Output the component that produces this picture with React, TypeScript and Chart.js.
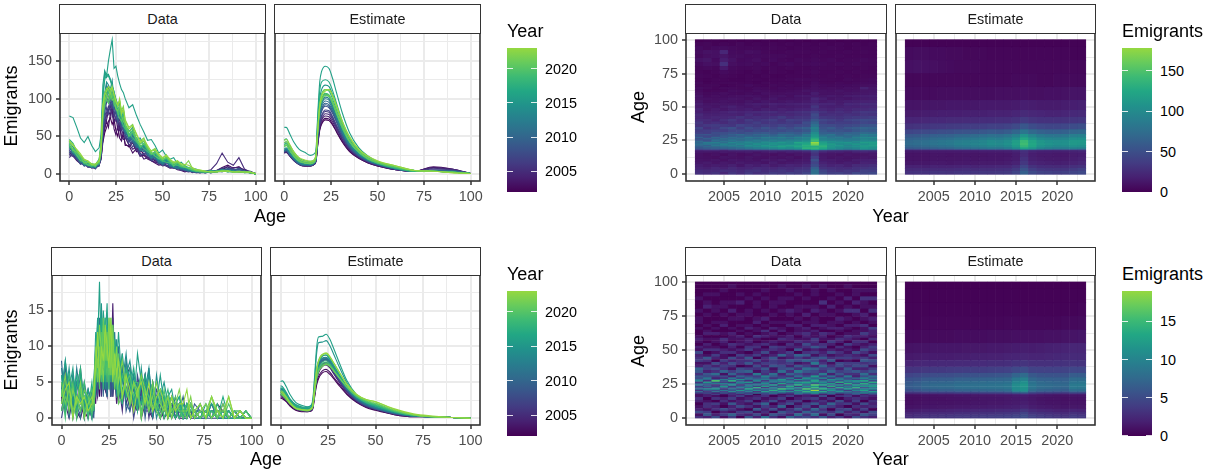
import React, { useEffect, useRef } from "react";
import { Chart, registerables } from "chart.js";
Chart.register(...registerables);

const YEARS = [2002,2003,2004,2005,2006,2007,2008,2009,2010,2011,2012,2013,2014,2015,2016,2017,2018,2019,2020,2021,2022,2023];
const AGES_DATA = [0,2,4,6,8,10,12,14,16,17,18,19,20,21,22,23,24,25,26,27,28,29,30,32,34,36,38,40,42,44,46,48,50,52,54,56,58,60,62,64,66,68,70,73,76,79,82,85,88,91,94,97,100];
const AGES_EST = [0,1,3,5,8,11,14,16,17,18,19,20,22,24,26,28,31,35,40,45,50,60,70,80,90,100];

const TOP_DATA = [
[28,26,20,17,13,11,10,10,13,20,42,55,62,70,75,66,72,58,50,64,48,52,40,36,42,30,33,26,22,24,17,19,14,16,12,10,11,8,6,7,4,5,3,4,3,4,6,10,5,7,6,3,0],
[26,24,18,14,15,10,9,8,12,22,46,60,70,62,80,85,60,52,64,48,44,56,38,38,28,34,24,25,20,18,15,12,13,11,8,9,6,5,3,5,4,2,2,3,2,5,9,12,8,10,4,4,1],
[30,25,22,16,11,12,8,10,11,23,48,62,72,84,78,90,70,75,60,68,50,46,48,40,33,36,28,20,22,18,16,15,11,12,9,8,8,6,4,3,4,3,3,2,3,4,8,6,9,9,6,2,1],
[22,28,19,15,14,9,11,7,14,19,46,66,78,85,92,76,80,70,72,58,60,52,50,38,44,34,24,28,22,20,19,13,15,12,11,9,7,8,4,5,2,4,3,4,6,14,28,16,12,22,7,3,0],
[32,27,24,18,12,13,10,11,12,24,52,70,82,90,84,95,78,82,68,74,58,62,52,44,50,32,30,34,24,19,22,16,18,12,10,11,8,6,7,5,3,4,2,3,4,5,8,10,7,6,5,2,1],
[26,24,20,13,15,11,9,8,13,26,56,74,88,80,96,88,85,72,74,66,62,70,48,46,36,42,27,26,30,18,20,15,14,11,9,10,9,5,6,4,4,3,2,2,3,4,6,5,7,5,4,4,0],
[34,30,21,19,13,12,12,9,15,25,60,82,95,102,92,98,90,80,76,84,66,58,54,42,48,38,32,36,24,26,22,17,13,15,12,8,10,7,5,4,6,3,3,3,2,4,7,6,5,8,4,2,1],
[28,31,25,16,14,10,10,12,11,28,64,88,100,94,106,92,86,88,70,78,64,68,56,48,42,35,38,30,28,20,24,14,15,17,10,12,9,6,8,6,4,2,3,2,4,5,5,8,6,7,4,3,0],
[30,26,23,20,11,14,9,10,14,27,68,92,105,110,98,102,94,84,80,88,68,72,58,46,52,40,31,34,26,23,25,18,12,16,13,9,7,9,7,5,3,4,2,3,2,3,6,4,5,4,3,2,1],
[36,29,22,15,16,12,11,8,16,30,72,96,112,100,108,104,88,90,78,84,70,62,54,50,44,37,34,38,29,21,26,16,16,19,11,13,10,8,6,4,5,3,3,2,4,4,3,6,5,3,4,3,0],
[33,32,26,18,12,15,10,11,13,31,78,104,118,112,102,110,96,86,82,90,72,78,60,48,54,42,32,30,35,24,21,19,14,17,12,9,11,8,6,6,4,4,3,2,3,3,5,4,5,3,3,2,1],
[38,28,24,21,14,11,12,9,17,29,76,100,110,116,104,100,98,92,76,84,68,74,62,52,46,40,36,39,27,22,25,17,15,18,14,10,8,9,7,5,5,3,4,3,2,4,6,3,4,4,2,3,0],
[35,34,27,19,15,13,9,12,15,33,84,108,122,118,112,124,100,94,84,92,74,66,58,50,56,44,33,37,31,25,27,20,16,19,13,11,13,9,8,6,4,4,5,3,3,3,4,5,3,4,3,2,1],
[42,36,30,23,17,14,13,12,18,38,100,135,128,132,126,118,108,100,92,96,80,86,66,56,62,46,48,38,32,27,30,21,17,20,15,12,14,9,11,7,5,4,5,3,4,3,5,4,3,4,3,3,0],
[77,75,62,48,42,50,38,30,35,52,118,137,130,150,165,178,140,143,130,120,112,108,100,88,92,78,66,56,45,46,38,28,32,24,20,22,14,16,11,9,8,7,5,4,5,4,6,5,4,3,3,2,1],
[46,41,30,24,19,15,14,13,20,40,104,125,133,130,124,116,110,96,90,94,82,72,64,58,52,48,40,44,33,26,29,22,18,21,14,16,12,10,10,7,6,4,4,3,3,4,5,4,3,4,3,3,0],
[38,33,28,20,16,15,11,12,16,34,88,106,112,108,114,102,104,92,86,80,76,82,62,52,58,46,36,40,32,28,24,20,17,21,16,11,14,10,9,8,5,4,4,4,3,4,4,5,3,3,4,2,1],
[40,30,26,22,14,13,13,10,17,32,82,98,104,110,100,106,98,90,80,86,72,64,60,54,48,43,38,34,30,26,28,23,18,16,15,13,12,10,11,7,6,5,3,3,4,3,5,3,4,3,3,3,0],
[36,34,25,18,17,12,11,13,14,30,74,92,100,94,102,108,92,88,82,74,70,76,64,50,56,45,37,41,33,29,24,21,20,23,17,11,15,11,9,9,6,4,5,4,3,4,4,4,3,4,2,2,1],
[44,32,29,24,15,16,12,11,18,33,80,96,106,100,110,98,100,86,84,90,78,70,66,56,60,47,40,44,35,27,30,24,19,22,18,14,16,12,10,8,7,5,4,3,4,3,5,4,3,3,3,3,0],
[42,40,31,25,20,17,14,12,19,36,92,108,114,112,106,116,104,98,92,98,84,90,72,62,66,52,44,48,36,31,34,25,21,26,19,15,17,13,12,18,8,6,5,4,3,4,4,5,3,4,3,2,1],
[45,38,33,27,19,18,13,14,17,35,90,104,110,116,112,115,106,96,90,100,80,86,70,60,64,54,42,46,38,30,33,27,22,25,20,16,18,14,13,12,9,6,6,4,3,3,4,4,3,3,3,3,1],
];

const TOP_EST = [
[28,29,24,19,13,11,11,13,17,40,58,66,72,71,65,56,43,30,21,15,11,6,4,9,6,1],
[29,30,25,19,13,11,11,13,18,41,60,68,74,73,66,57,44,31,21,15,11,6,4,10,7,1],
[28,30,24,18,13,11,11,13,18,43,62,71,77,76,69,60,46,32,22,16,12,6,4,9,7,1],
[30,31,25,20,14,12,12,14,19,44,65,73,80,79,72,62,47,33,23,16,12,6,4,8,6,1],
[29,31,25,19,14,12,12,14,19,46,67,76,83,82,74,64,49,34,23,17,12,7,4,7,6,1],
[29,30,25,19,13,12,11,14,19,47,69,78,85,84,76,65,50,35,24,17,13,7,4,6,5,1],
[31,32,26,20,14,12,12,14,20,50,73,83,90,88,80,69,52,36,24,17,13,7,4,5,5,1],
[31,32,27,21,14,13,12,15,20,51,75,85,92,90,82,70,53,37,25,18,13,7,4,5,4,1],
[30,32,26,20,14,12,12,14,20,52,77,87,94,92,84,72,54,37,25,18,13,7,4,5,4,1],
[32,33,27,21,15,13,12,15,21,54,80,90,97,95,86,74,56,38,26,18,14,7,4,4,4,1],
[31,33,27,21,15,13,13,15,21,57,84,94,102,100,90,77,58,40,26,19,14,7,4,4,3,1],
[33,34,28,22,15,13,13,15,22,56,82,93,100,98,88,76,57,39,27,19,14,8,4,4,3,1],
[34,35,29,22,16,14,13,16,22,60,88,99,106,103,93,80,60,41,27,19,14,8,4,4,3,1],
[41,43,35,28,19,16,16,18,26,68,100,112,118,116,105,90,68,46,30,21,15,8,5,4,3,1],
[62,62,53,43,33,29,25,27,33,82,122,136,143,140,126,108,82,55,35,24,17,9,5,4,3,1],
[45,47,38,30,21,18,17,19,27,76,110,122,125,122,110,94,71,48,31,22,16,8,5,4,3,1],
[39,41,33,26,19,16,15,17,24,64,95,106,112,110,99,85,65,44,29,21,15,8,4,4,3,1],
[38,39,32,25,18,15,15,17,23,61,90,100,107,105,95,81,62,43,29,20,15,9,4,4,3,1],
[36,38,31,24,17,15,14,16,23,59,87,97,104,103,93,80,62,43,29,20,15,9,5,4,3,1],
[37,39,32,25,18,15,14,16,24,60,88,98,105,104,95,82,64,44,30,21,16,10,5,4,3,1],
[42,43,36,28,20,17,16,18,25,62,92,105,112,112,103,89,69,48,32,23,17,11,5,4,2,1],
[45,46,39,30,22,19,17,19,27,60,90,103,110,112,104,91,71,50,33,24,18,11,5,4,2,1],
];

const BOTTOM_DATA = [
[3,1,5,2,1,0,2,3,1,1,4,7,3,8,5,4,9,6,3,10,8,5,6,3,6,7,2,1,4,3,2,5,1,2,0,1,2,1,0,0,1,0,1,1,0,1,0,0,1,0,0,0,0],
[2,6,4,1,3,3,1,0,2,2,5,3,6,10,4,8,5,7,12,3,7,9,5,6,2,4,4,1,3,6,1,0,3,1,2,0,1,0,2,1,0,1,0,0,1,0,2,1,0,1,0,0,0],
[5,2,0,3,2,4,0,3,1,4,2,8,5,11,7,4,3,9,5,16,6,2,4,8,3,5,2,5,0,2,4,1,3,1,0,1,1,0,2,0,1,0,1,0,0,1,1,0,0,1,0,0,0],
[1,4,2,5,0,1,3,2,0,1,6,4,9,3,7,12,5,10,4,6,9,3,5,1,7,3,4,2,4,1,1,3,2,0,1,2,3,0,1,0,0,2,1,0,1,0,1,1,0,0,1,0,0],
[4,7,1,3,2,6,1,4,2,3,3,10,6,8,5,4,11,8,3,14,6,9,2,7,4,1,3,5,2,5,0,3,1,2,3,0,1,1,2,0,1,0,0,1,0,2,0,1,0,0,0,1,0],
[0,3,4,1,5,2,2,1,4,2,7,5,12,4,9,7,3,8,10,6,11,4,7,3,6,5,0,3,3,2,4,1,2,0,2,1,1,2,0,1,0,1,0,1,1,0,0,2,0,1,0,0,0],
[6,2,5,0,3,1,4,2,1,5,4,9,7,13,6,10,8,5,12,3,7,8,5,2,7,4,1,6,3,6,2,0,4,3,1,2,2,0,1,0,2,1,0,0,1,1,0,0,1,0,0,0,0],
[2,5,1,6,1,4,0,3,2,0,8,3,11,5,14,4,9,7,3,10,8,6,4,9,1,3,5,2,5,0,4,2,1,3,2,0,1,3,0,1,1,0,2,1,0,0,1,1,0,1,0,0,0],
[8,1,3,2,4,7,2,1,3,4,5,12,6,9,3,13,6,11,8,4,9,7,10,3,4,6,2,4,2,3,1,5,2,0,3,1,0,2,1,3,0,1,0,2,0,1,0,0,1,0,1,0,0],
[3,6,0,5,2,0,5,2,0,3,9,6,14,7,10,5,12,4,8,9,7,3,6,8,2,1,6,4,4,6,2,1,3,4,1,2,0,1,2,0,2,0,1,0,1,0,1,1,0,0,0,0,0],
[1,4,6,1,7,3,1,4,2,1,6,11,8,15,5,9,3,13,6,10,12,5,4,2,8,5,5,3,3,1,7,2,2,3,0,1,3,1,0,2,1,0,1,0,0,1,0,1,1,0,0,1,0],
[7,2,4,3,0,5,3,0,4,2,4,10,5,12,8,14,7,6,10,8,5,9,3,7,3,6,2,4,6,2,3,4,0,2,3,1,2,2,1,0,0,2,1,0,1,2,0,0,1,0,1,0,0],
[4,8,2,6,3,1,4,2,1,5,10,7,13,6,11,4,14,9,12,5,11,3,8,5,9,3,6,1,5,4,7,0,6,2,1,3,1,0,2,1,1,2,0,1,0,1,1,0,0,1,0,0,0],
[5,3,7,2,5,4,0,3,2,3,8,14,9,16,7,12,6,10,13,6,8,11,5,3,6,8,4,2,7,2,6,3,1,3,5,2,1,2,3,1,2,0,1,0,2,0,1,0,1,0,0,1,0],
[3,8,4,7,1,6,2,4,1,4,12,10,19,8,15,11,16,6,9,13,10,7,12,4,5,7,2,9,5,5,1,4,2,6,2,3,4,1,1,2,0,2,1,1,0,2,1,0,0,1,1,0,0],
[6,1,5,3,6,2,3,1,5,2,7,13,6,14,9,5,13,8,11,7,4,10,4,9,3,4,7,3,2,6,3,2,1,4,3,0,1,2,3,0,1,2,0,0,1,1,0,3,0,0,0,1,0],
[2,5,3,0,4,7,1,3,0,4,9,6,12,10,4,14,7,12,5,9,11,4,8,2,7,5,3,1,6,3,1,5,2,0,2,4,1,0,2,0,2,1,1,0,1,0,2,0,1,0,1,0,0],
[4,0,6,4,2,3,5,0,3,1,5,11,8,5,13,6,10,4,14,6,9,8,3,6,4,2,5,5,0,4,2,3,1,3,0,2,3,1,0,1,2,0,1,2,0,1,0,1,0,1,0,0,0],
[1,3,2,5,0,4,1,2,4,3,6,8,4,12,7,10,5,14,7,10,6,5,9,3,5,6,3,4,1,4,3,1,2,1,4,0,2,3,1,0,1,2,0,1,0,3,1,0,2,0,0,1,0],
[5,2,4,1,3,1,4,3,1,5,8,5,10,6,14,8,12,6,9,11,4,7,2,3,6,2,5,4,0,3,2,5,1,0,2,3,1,2,1,1,0,2,1,0,1,3,0,2,0,1,1,0,0],
[3,6,1,4,2,5,0,2,3,2,10,7,13,9,5,12,8,14,6,13,6,10,5,8,4,2,5,3,6,4,1,3,5,2,1,3,0,2,4,1,1,3,0,1,2,0,1,1,3,0,1,0,0],
[2,4,5,0,3,2,3,1,2,4,7,12,5,10,8,13,10,7,14,5,9,6,8,3,6,4,1,4,5,2,5,1,3,4,2,0,3,1,2,2,4,0,1,2,0,3,1,0,3,0,1,0,0],
];

const BOTTOM_EST = [
[2.8,2.7,2.3,1.7,1.1,.9,.9,1,1.3,3,4.6,5.5,6.3,6.5,6.1,5.5,4.5,3.3,2.2,1.5,1.1,.5,.2,.2,.1,0],
[3,2.9,2.4,1.8,1.2,1,.9,1,1.4,3.2,4.9,5.8,6.6,6.8,6.4,5.7,4.7,3.4,2.3,1.6,1.2,.5,.2,.2,.1,0],
[3.2,3.1,2.6,2,1.3,1.1,1,1.1,1.5,3.5,5.3,6.3,7.2,7.4,7,6.2,5,3.6,2.4,1.7,1.2,.6,.3,.2,.1,0],
[3.3,3.2,2.6,2,1.3,1.1,1,1.1,1.5,3.6,5.5,6.5,7.4,7.6,7.1,6.3,5.1,3.7,2.4,1.7,1.3,.6,.3,.2,.1,0],
[3.3,3.3,2.7,2,1.4,1.1,1,1.2,1.6,3.7,5.6,6.6,7.5,7.7,7.2,6.4,5.2,3.7,2.5,1.7,1.3,.6,.3,.2,.1,0],
[3.4,3.4,2.7,2.1,1.4,1.1,1.1,1.2,1.6,3.7,5.6,6.6,7.5,7.8,7.3,6.4,5.2,3.8,2.5,1.7,1.3,.6,.3,.2,.1,0],
[3.6,3.5,2.9,2.2,1.5,1.2,1.1,1.3,1.7,3.9,5.9,7,7.9,8.1,7.6,6.7,5.4,3.9,2.6,1.8,1.3,.7,.3,.2,.1,0],
[3.6,3.6,2.9,2.2,1.5,1.2,1.2,1.3,1.7,4,6,7.1,8,8.2,7.6,6.8,5.5,4,2.6,1.8,1.4,.7,.3,.2,.1,0],
[3.8,3.7,3,2.3,1.6,1.3,1.2,1.4,1.8,4,6.1,7.2,8.1,8.2,7.7,6.8,5.5,4,2.7,1.9,1.4,.7,.3,.2,.1,0],
[3.9,3.8,3.1,2.4,1.6,1.3,1.3,1.4,1.9,4.1,6.2,7.3,8.2,8.3,7.8,6.9,5.6,4,2.7,1.9,1.4,.7,.3,.2,.1,0],
[4,3.9,3.2,2.4,1.7,1.4,1.3,1.4,1.9,4.2,6.3,7.4,8.3,8.4,7.9,7,5.7,4.1,2.8,2,1.5,.8,.3,.2,.1,0],
[4.1,4,3.3,2.5,1.7,1.4,1.3,1.5,2,4.2,6.4,7.5,8.4,8.5,8,7.1,5.8,4.2,2.8,2,1.5,.8,.3,.2,.1,0],
[4.2,4.1,3.4,2.6,1.8,1.5,1.4,1.5,2.1,4.5,6.8,7.9,8.7,8.8,8.2,7.3,6,4.3,2.9,2.1,1.6,.8,.4,.2,.1,0],
[4.5,4.4,3.6,2.7,1.9,1.6,1.5,1.7,2.3,5.5,9,10.5,10.6,10.8,10.1,8.9,7.1,4.9,3.2,2.2,1.7,.9,.4,.2,.1,0],
[5.1,5.2,4.4,3.3,2.2,1.8,1.6,1.8,2.6,6,9.8,11.3,11.4,11.7,11,9.7,7.7,5.2,3.3,2.3,1.8,.9,.4,.2,.1,0],
[4.2,4.2,3.4,2.6,1.8,1.5,1.4,1.5,2.1,4.3,6.6,7.8,8.6,8.8,8.3,7.4,6.1,4.4,3,2.2,1.7,.9,.4,.2,.1,0],
[3.8,3.8,3.1,2.3,1.6,1.3,1.2,1.4,1.8,3.9,6,7,7.8,8,7.6,6.8,5.7,4.3,3,2.2,1.8,.9,.4,.2,.1,0],
[3.6,3.5,2.9,2.2,1.5,1.2,1.1,1.3,1.7,3.8,5.8,6.8,7.6,7.8,7.4,6.7,5.6,4.3,3,2.3,1.9,1,.4,.2,.1,0],
[3.4,3.3,2.7,2,1.4,1.2,1.1,1.2,1.6,3.7,5.6,6.6,7.4,7.6,7.3,6.6,5.6,4.3,3.1,2.4,2,1,.4,.2,.1,0],
[3.3,3.2,2.6,2,1.3,1.1,1,1.2,1.6,3.6,5.5,6.5,7.2,7.5,7.2,6.6,5.6,4.4,3.2,2.5,2.1,1.1,.5,.2,.1,0],
[3.8,3.7,3,2.2,1.4,1.2,1.1,1.3,1.8,4.4,6.8,8,8.9,9,8.5,7.7,6.4,4.7,3.3,2.6,2.3,1.2,.5,.2,.1,0],
[3.6,3.5,2.9,2.1,1.4,1.2,1.1,1.3,1.8,4.3,6.6,7.9,8.8,9.1,8.6,7.7,6.4,4.7,3.3,2.6,2.3,1.3,.6,.3,.1,0],
];

const AGE_MAJOR = [0,25,50,75,100];
const AGE_MINOR = [12.5,37.5,62.5,87.5];
const YEAR_MAJOR = [2005,2010,2015,2020];
const YEAR_MINOR = [2002.5,2007.5,2012.5,2017.5,2022.5];
const TOP_Y_MAJOR = [0,50,100,150];
const TOP_Y_MINOR = [25,75,125,175];
const BOT_Y_MAJOR = [0,5,10,15];
const BOT_Y_MINOR = [2.5,7.5,12.5,17.5];
const TOP_MAX = 178;
const BOT_MAX = 19;

const FONT = '"Liberation Sans", Arial, sans-serif';
const STOPS: [number, number[]][] = [
  [0,[68,1,84]],[.1,[72,37,118]],[.2,[65,68,135]],[.3,[53,96,141]],[.4,[42,120,142]],
  [.5,[33,144,140]],[.6,[34,168,132]],[.7,[68,191,112]],[.8,[122,209,81]],[.85,[149,216,64]],
];
function viridis(v: number) {
  const t = Math.max(0, Math.min(1, v)) * 0.85;
  for (let i = 1; i < STOPS.length; i++) {
    if (t <= STOPS[i][0]) {
      const [a, ca] = STOPS[i - 1];
      const [b, cb] = STOPS[i];
      const f = (t - a) / (b - a);
      const c = ca.map((x, k) => Math.round(x + (cb[k] - x) * f));
      return `rgb(${c[0]},${c[1]},${c[2]})`;
    }
  }
  return "rgb(149,216,64)";
}
const GRADIENT = "linear-gradient(to top," + [0,.1,.2,.3,.4,.5,.6,.7,.8,.9,1].map(v => viridis(v)).join(",") + ")";

const borderPlugin = {
  id: "panelBorder",
  afterDraw(c: any) {
    const { left, top, right, bottom } = c.chartArea;
    const ctx = c.ctx;
    ctx.save();
    ctx.strokeStyle = "#333333";
    ctx.lineWidth = 1.6;
    ctx.strokeRect(left, top, right - left, bottom - top);
    ctx.restore();
  },
};

function axis(pos: string, min: number, max: number, major: number[], minor: number[], showLabels: boolean, size: number) {
  const inMajor = (v: number) => major.includes(v);
  return {
    type: "linear", position: pos, min, max, offset: false,
    afterBuildTicks(s: any) {
      s.ticks = [...major, ...minor].sort((a, b) => a - b).map(value => ({ value }));
    },
    afterFit(s: any) {
      if (pos === "left") s.width = size; else s.height = size;
      s.paddingLeft = s.paddingRight = s.paddingTop = s.paddingBottom = 0;
    },
    border: { display: false },
    grid: {
      offset: false,
      color: "#EBEBEB",
      drawTicks: showLabels,
      tickLength: 4,
      lineWidth: (c: any) => (inMajor(c.tick?.value) ? 2 : 1),
      tickColor: (c: any) => (inMajor(c.tick?.value) ? "#333333" : "rgba(0,0,0,0)"),
      tickWidth: 1.5,
    },
    ticks: {
      display: showLabels,
      autoSkip: false, maxRotation: 0, minRotation: 0,
      color: "#4D4D4D", padding: pos === "left" ? 4 : 3,
      font: { family: FONT, size: 14.4 },
      callback: (v: number) => (inMajor(v) ? String(v) : ""),
    },
  };
}

type P = { kind: "line" | "heat"; x: [number, number]; y: [number, number]; rows: number[][]; ages: number[]; smooth: boolean; leftLabels: boolean; yr: [number, number]; yMajor: number[]; yMinor: number[]; vmax: number };

const Y1: [number, number] = [33, 181];
const Y2: [number, number] = [275, 425];
const PANELS: P[] = [
  { kind: "line", x: [60, 265], y: Y1, rows: TOP_DATA, ages: AGES_DATA, smooth: false, leftLabels: true, yr: [-8.9, 186.9], yMajor: TOP_Y_MAJOR, yMinor: TOP_Y_MINOR, vmax: TOP_MAX },
  { kind: "line", x: [275, 480], y: Y1, rows: TOP_EST, ages: AGES_EST, smooth: true, leftLabels: false, yr: [-8.9, 186.9], yMajor: TOP_Y_MAJOR, yMinor: TOP_Y_MINOR, vmax: TOP_MAX },
  { kind: "heat", x: [686, 886], y: Y1, rows: TOP_DATA, ages: AGES_DATA, smooth: false, leftLabels: true, yr: [-5.5, 105.5], yMajor: AGE_MAJOR, yMinor: AGE_MINOR, vmax: TOP_MAX },
  { kind: "heat", x: [896, 1095], y: Y1, rows: TOP_EST, ages: AGES_EST, smooth: true, leftLabels: false, yr: [-5.5, 105.5], yMajor: AGE_MAJOR, yMinor: AGE_MINOR, vmax: TOP_MAX },
  { kind: "line", x: [52, 261], y: Y2, rows: BOTTOM_DATA, ages: AGES_DATA, smooth: false, leftLabels: true, yr: [-0.95, 19.95], yMajor: BOT_Y_MAJOR, yMinor: BOT_Y_MINOR, vmax: BOT_MAX },
  { kind: "line", x: [271, 480], y: Y2, rows: BOTTOM_EST, ages: AGES_EST, smooth: true, leftLabels: false, yr: [-0.95, 19.95], yMajor: BOT_Y_MAJOR, yMinor: BOT_Y_MINOR, vmax: BOT_MAX },
  { kind: "heat", x: [686, 886], y: Y2, rows: BOTTOM_DATA, ages: AGES_DATA, smooth: false, leftLabels: true, yr: [-5.5, 105.5], yMajor: AGE_MAJOR, yMinor: AGE_MINOR, vmax: BOT_MAX },
  { kind: "heat", x: [896, 1095], y: Y2, rows: BOTTOM_EST, ages: AGES_EST, smooth: true, leftLabels: false, yr: [-5.5, 105.5], yMajor: AGE_MAJOR, yMinor: AGE_MINOR, vmax: BOT_MAX },
];

const ML_LABELS = 50, ML_PLAIN = 2, MR = 18, MT = 4, MB = 30;

function buildConfig(p: P): any {
  const ml = p.leftLabels ? ML_LABELS : ML_PLAIN;
  let datasets: any[];
  let xAxis: any;
  if (p.kind === "line") {
    xAxis = axis("bottom", -5, 105, AGE_MAJOR, AGE_MINOR, true, MB);
    datasets = p.rows.map((row, i) => ({
      type: "line",
      label: String(YEARS[i]),
      order: YEARS.length - i,
      data: row.map((v, k) => ({ x: p.ages[k], y: v })),
      borderColor: viridis(i / (YEARS.length - 1)),
      borderWidth: 1.1,
      pointRadius: 0,
      fill: false,
      cubicInterpolationMode: p.smooth ? "monotone" : "default",
      tension: 0,
    }));
  } else {
    xAxis = axis("bottom", 2000.4, 2024.6, YEAR_MAJOR, YEAR_MINOR, true, MB);
    datasets = p.ages.map((age, k) => {
      const lo = k === 0 ? age - 0.5 : (p.ages[k - 1] + age) / 2;
      const hi = k === p.ages.length - 1 ? age + 0.5 : (age + p.ages[k + 1]) / 2;
      const colors = YEARS.map((_, i) => viridis(p.rows[i][k] / p.vmax));
      return {
        type: "bar",
        label: String(age),
        data: YEARS.map(y => ({ x: y, y: [lo, hi] })),
        backgroundColor: colors,
        borderColor: colors,
        borderWidth: 0.4,
        borderSkipped: false,
        barPercentage: 1,
        categoryPercentage: 1,
        grouped: false,
      };
    });
  }
  return {
    data: { datasets },
    plugins: [borderPlugin],
    options: {
      responsive: false,
      animation: false,
      devicePixelRatio: 1,
      events: [],
      layout: { padding: { left: 0, top: MT, right: MR, bottom: 0 } },
      plugins: { legend: { display: false }, tooltip: { enabled: false }, title: { display: false } },
      scales: {
        x: xAxis,
        y: axis("left", p.yr[0], p.yr[1], p.yMajor, p.yMinor, p.leftLabels, ml),
      },
    },
  };
}

function PanelCanvas({ p }: { p: P }) {
  const ref = useRef<HTMLCanvasElement>(null);
  const ml = p.leftLabels ? ML_LABELS : ML_PLAIN;
  useEffect(() => {
    const chart = new Chart(ref.current as HTMLCanvasElement, buildConfig(p));
    return () => chart.destroy();
  }, [p]);
  return (
    <canvas
      ref={ref}
      width={ml + (p.x[1] - p.x[0]) + MR}
      height={MT + (p.y[1] - p.y[0]) + MB}
      style={{ position: "absolute", left: p.x[0] - ml, top: p.y[0] - MT }}
    />
  );
}

function Strip({ x, y, label }: { x: [number, number]; y: [number, number]; label: string }) {
  return (
    <div style={{ position: "absolute", left: x[0] - 0.75, top: y[0], width: x[1] - x[0] + 1.5, height: y[1] - y[0] + 0.75, boxSizing: "border-box", border: "1.5px solid #333333", background: "#fff", display: "flex", alignItems: "center", justifyContent: "center", font: `14.4px ${FONT}`, color: "#1A1A1A" }}>
      {label}
    </div>
  );
}

function TextAt({ cx, base, children, rotate }: any) {
  const style: any = rotate
    ? { position: "absolute", left: cx, top: base, transform: "translate(-50%,-50%) rotate(-90deg)", font: `18px/18px ${FONT}`, color: "#000", whiteSpace: "nowrap" }
    : { position: "absolute", left: cx, top: base - 15.2, transform: "translateX(-50%)", font: `18px/18px ${FONT}`, color: "#000", whiteSpace: "nowrap" };
  return <div style={style}>{children}</div>;
}

function Legend({ x, top, bottom, title, titleBase, lo, hi, ticks }: any) {
  const w = 30;
  return (
    <>
      <div style={{ position: "absolute", left: x, top: titleBase - 15.2, font: `18px/18px ${FONT}`, color: "#000", whiteSpace: "nowrap" }}>{title}</div>
      <div style={{ position: "absolute", left: x, top, width: w, height: bottom - top, background: GRADIENT }} />
      {ticks.map((t: number) => {
        const y = bottom - ((t - lo) / (hi - lo)) * (bottom - top);
        return (
          <React.Fragment key={t}>
            <div style={{ position: "absolute", left: x, top: y - 0.5, width: 6, height: 1, background: "rgba(255,255,255,.85)" }} />
            <div style={{ position: "absolute", left: x + w - 6, top: y - 0.5, width: 6, height: 1, background: "rgba(255,255,255,.85)" }} />
            <div style={{ position: "absolute", left: x + w + 8, top: y - 8, font: `14.4px/16px ${FONT}`, color: "#000" }}>{t}</div>
          </React.Fragment>
        );
      })}
    </>
  );
}

const S1: [number, number] = [4, 33];
const S2: [number, number] = [247, 275];
const YEAR_TICKS = [2005, 2010, 2015, 2020];

export default function App() {
  return (
    <div style={{ position: "fixed", left: 0, top: 0, width: 1215, height: 474, background: "#fff", overflow: "hidden" }}>
      {PANELS.map((p, i) => <PanelCanvas key={i} p={p} />)}
      {PANELS.map((p, i) => <Strip key={i} x={p.x} y={p.y === Y1 ? S1 : S2} label={i % 2 === 0 ? "Data" : "Estimate"} />)}
      <TextAt rotate cx={11.4} base={106}>Emigrants</TextAt>
      <TextAt rotate cx={11.4} base={350}>Emigrants</TextAt>
      <TextAt rotate cx={638.4} base={107}>Age</TextAt>
      <TextAt rotate cx={638.4} base={350.5}>Age</TextAt>
      <TextAt cx={270} base={222}>Age</TextAt>
      <TextAt cx={266} base={465}>Age</TextAt>
      <TextAt cx={890.5} base={222}>Year</TextAt>
      <TextAt cx={890.5} base={465}>Year</TextAt>
      <Legend x={507} top={48} bottom={192} title="Year" titleBase={37} lo={2002} hi={2023} ticks={YEAR_TICKS} />
      <Legend x={507} top={291} bottom={435.7} title="Year" titleBase={280} lo={2002} hi={2023} ticks={YEAR_TICKS} />
      <Legend x={1122} top={48} bottom={192} title="Emigrants" titleBase={37} lo={0} hi={TOP_MAX} ticks={TOP_Y_MAJOR} />
      <Legend x={1122} top={291} bottom={435.7} title="Emigrants" titleBase={280} lo={0} hi={BOT_MAX} ticks={BOT_Y_MAJOR} />
    </div>
  );
}
